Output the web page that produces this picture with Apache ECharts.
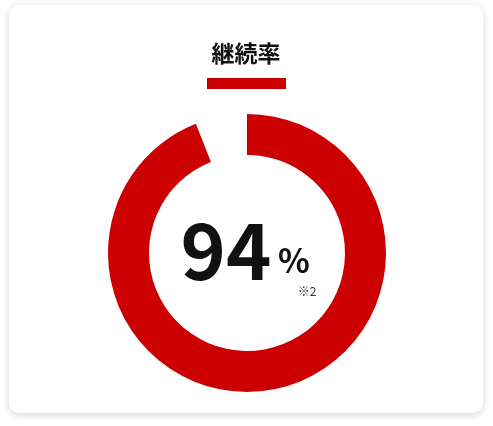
<!DOCTYPE html>
<html>
<head>
<meta charset="utf-8">
<script src="https://cdn.jsdelivr.net/npm/echarts@6/dist/echarts.min.js"></script>
<style>
  html, body { margin: 0; padding: 0; background: #ffffff; }
  #chart { width: 493px; height: 426px; }
</style>
</head>
<body>
<div id="chart"></div>
<script>
const title = "継続率";
const rate = 94;
const rest = 100 - rate;
const unit = "%";
const note = "※2";

const red = "#cc0000";
const fontFamily = '"Noto Sans CJK JP", "Noto Sans", sans-serif';

const chart = echarts.init(document.getElementById("chart"));

chart.setOption({
  animation: false,
  graphic: [
    {
      type: "rect",
      z: 0,
      shape: { x: 9, y: 5, width: 474, height: 408, r: 10 },
      style: {
        fill: "#ffffff",
        shadowBlur: 8,
        shadowOffsetY: 2,
        shadowColor: "rgba(0,0,0,0.16)",
      },
    },
    {
      type: "text",
      z: 10,
      style: {
        x: 246, y: 53,
        text: title,
        align: "center",
        verticalAlign: "middle",
        fontFamily,
        fontWeight: "bold",
        fontSize: 23,
        fill: "#111111",
      },
    },
    {
      type: "rect",
      z: 10,
      shape: { x: 207, y: 78, width: 79, height: 11 },
      style: { fill: red },
    },
    {
      type: "text",
      z: 10,
      style: {
        x: 226, y: 251,
        text: String(rate),
        align: "center",
        verticalAlign: "middle",
        fontFamily,
        fontWeight: "bold",
        fontSize: 77,
        fill: "#111111",
      },
    },
    {
      type: "text",
      z: 10,
      style: {
        x: 294, y: 260,
        text: unit,
        align: "center",
        verticalAlign: "middle",
        fontFamily,
        fontWeight: "bold",
        fontSize: 33,
        fill: "#111111",
      },
    },
    {
      type: "text",
      z: 10,
      style: {
        x: 307, y: 291,
        text: note,
        align: "center",
        verticalAlign: "middle",
        fontFamily,
        fontSize: 12,
        fill: "#333333",
      },
    },
  ],
  series: [
    {
      type: "pie",
      z: 5,
      center: [247, 253],
      radius: [98, 139],
      startAngle: 90,
      clockwise: true,
      silent: true,
      label: { show: false },
      labelLine: { show: false },
      emphasis: { disabled: true },
      data: [
        { value: rate, itemStyle: { color: red } },
        { value: rest, itemStyle: { color: "transparent" } },
      ],
    },
  ],
});
</script>
</body>
</html>
